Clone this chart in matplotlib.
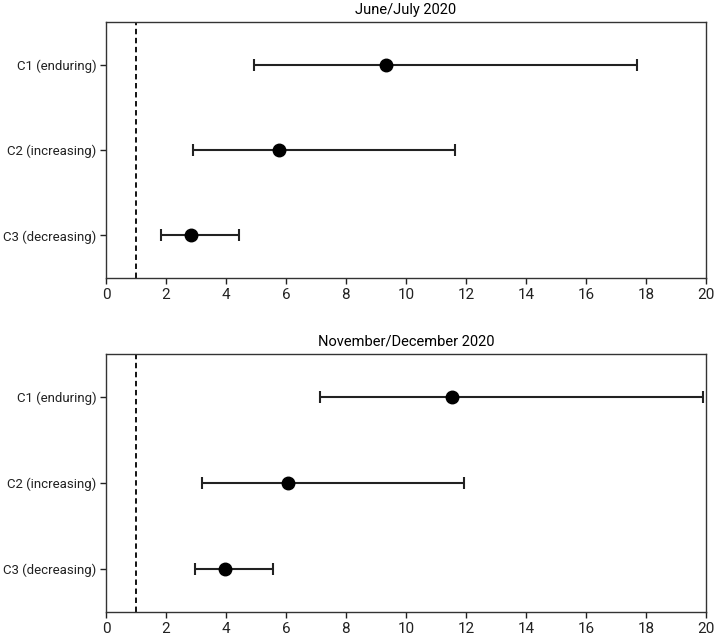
import matplotlib
matplotlib.use("Agg")
import matplotlib.pyplot as plt

plt.rcParams['font.family'] = ["Roboto", "DejaVu Sans"]

categories = ["C1 (enduring)", "C2 (increasing)", "C3 (decreasing)"]
titles = ["June/July 2020", "November/December 2020"]

june_est = [9.35, 5.77, 2.82]
june_low = [4.93, 2.90, 1.83]
june_high = [17.70, 11.64, 4.44]

nov_est = [11.55, 6.07, 3.98]
nov_low = [7.14, 3.20, 2.98]
nov_high = [19.90, 11.95, 5.56]

xticks = list(range(0, 21, 2))
ref_line = 1

fig = plt.figure(figsize=(7.14, 6.35), dpi=100)
ax1 = fig.add_axes([0.1485, 0.5622, 0.840, 0.4031])
ax2 = fig.add_axes([0.1485, 0.0362, 0.840, 0.4063])

ypos = [3, 2, 1]
for ax, title, est, low, high in [(ax1, titles[0], june_est, june_low, june_high),
                                   (ax2, titles[1], nov_est, nov_low, nov_high)]:
    xerr = [[e - l for e, l in zip(est, low)], [h - e for e, h in zip(est, high)]]
    ax.errorbar(est, ypos, xerr=xerr, fmt='o', color='black', ecolor='#222222',
                markersize=9, elinewidth=1.5, capsize=4.5, capthick=1.5)
    ax.axvline(ref_line, color='black', linestyle=(0, (3, 2)), linewidth=1.3)
    ax.set_xlim(0, 20)
    ax.set_ylim(0.5, 3.5)
    ax.set_xticks(xticks)
    ax.set_yticks(ypos)
    ax.set_yticklabels(categories)
    ax.tick_params(axis='x', labelsize=11)
    ax.tick_params(axis='y', labelsize=9.5, pad=3)
    ax.tick_params(axis='both', length=4, width=1, direction='out', colors='#222222')
    for s in ax.spines.values():
        s.set_linewidth(1.0)
        s.set_color('#333333')
    ax.set_title(title, fontsize=10.5, pad=6)

fig.savefig("out.png", dpi=100)
